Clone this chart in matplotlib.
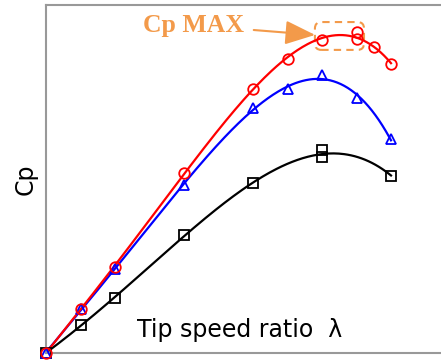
import matplotlib
matplotlib.use("Agg")
import matplotlib.pyplot as plt
import numpy as np
from matplotlib.patches import FancyBboxPatch

# tip speed ratio and Cp values
tsr_red = [0, 1, 2, 4, 6, 7, 8, 9, 9, 9.5, 10]
cp_red = [0, 0.063, 0.124, 0.259, 0.380, 0.422, 0.450, 0.461, 0.451, 0.439, 0.415]

tsr_blue = [0, 1, 2, 4, 6, 7, 8, 9, 10]
cp_blue = [0, 0.063, 0.120, 0.242, 0.352, 0.379, 0.399, 0.367, 0.307]

tsr_black = [0, 1, 2, 4, 6, 8, 8, 10]
cp_black = [0, 0.040, 0.079, 0.169, 0.244, 0.291, 0.281, 0.255]

fig = plt.figure(figsize=(4.41, 3.6), dpi=100)
ax = fig.add_axes([46 / 441, 7 / 360, 399 / 441, 348 / 360])

series = [
    (tsr_black, cp_black, "black", "s"),
    (tsr_blue, cp_blue, "blue", "^"),
    (tsr_red, cp_red, "red", "o"),
]
for x, y, c, m in series:
    # smooth trend line through the measured points
    coef = np.polyfit(x, y, 4)
    xs = np.linspace(0, max(x), 200)
    ax.plot(xs, np.polyval(coef, xs), color=c, lw=1.6, zorder=2)
    ax.plot(x, y, ls="none", marker=m, ms=7.6, mfc="none", mec=c, mew=1.3, zorder=3,
            clip_on=False)

ax.set_xlim(0, 399 / 34.5)
ax.set_ylim(0, 0.5)
ax.set_xticks([])
ax.set_yticks([])
for s in ax.spines.values():
    s.set_color("#999999")
    s.set_linewidth(1.5)

ax.set_ylabel("Cp", fontsize=17, labelpad=6)
ax.text(5.6, 0.016, "Tip speed ratio  λ", fontsize=17, ha="center", va="bottom")

orange = "#F39A4A"
box = FancyBboxPatch((0.674, 0.871), 0.123, 0.080,
                     boxstyle="round,pad=0,rounding_size=0.016",
                     transform=ax.transAxes, mutation_aspect=399 / 348,
                     fill=False, ec=orange, ls=(0, (3.5, 2.5)), lw=1.5)
ax.add_patch(box)
ax.annotate("Cp MAX", xy=(7.8, 0.457), xytext=(5.74, 0.471), color=orange,
            fontsize=18.5, fontweight="bold", family="Liberation Serif",
            ha="right", va="center",
            arrowprops=dict(arrowstyle="-|>,head_length=1.0,head_width=0.4",
                            color=orange, lw=1.5, shrinkA=5, shrinkB=0))

fig.savefig("out.png", dpi=100)
